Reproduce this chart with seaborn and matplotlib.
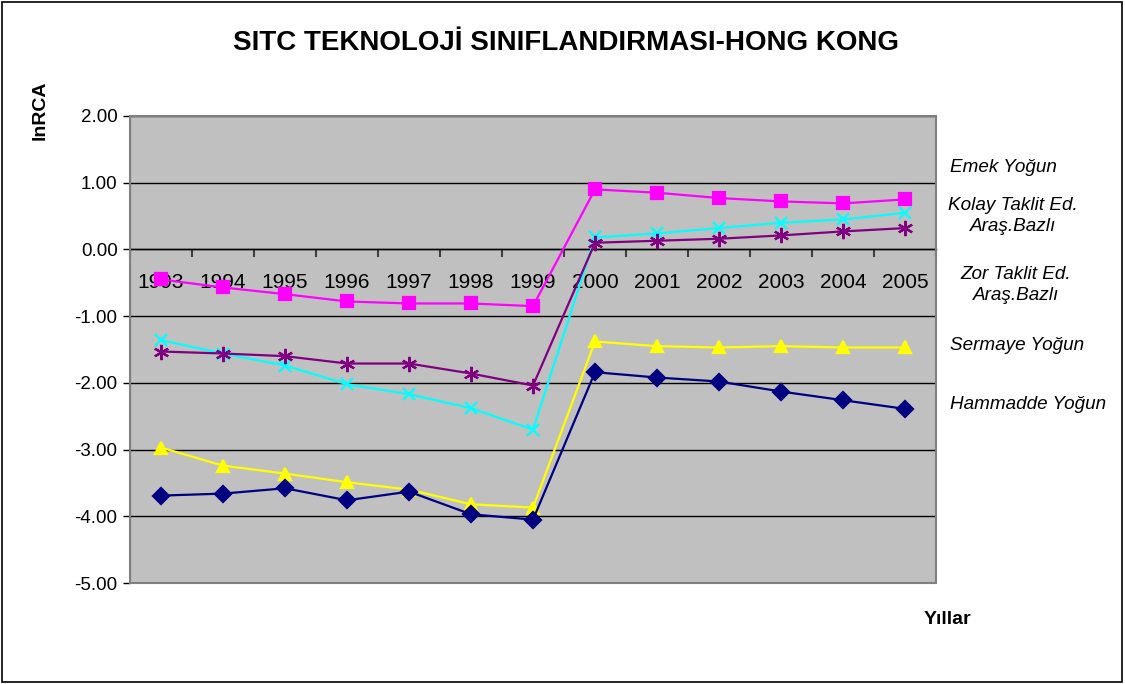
import numpy as np
import pandas as pd
import matplotlib
matplotlib.use('Agg')
import matplotlib.pyplot as plt
from matplotlib.patches import Rectangle
import seaborn as sns

# ---------------------- data ---------------------- #
years = [1993, 1994, 1995, 1996, 1997, 1998, 1999, 2000, 2001, 2002, 2003, 2004, 2005]

emek = [-0.45, -0.57, -0.67, -0.78, -0.81, -0.81, -0.85, 0.90, 0.85, 0.77, 0.72, 0.69, 0.75]
kolay = [-1.36, -1.56, -1.74, -2.02, -2.17, -2.38, -2.70, 0.18, 0.24, 0.32, 0.40, 0.45, 0.55]
zor = [-1.53, -1.56, -1.60, -1.71, -1.71, -1.86, -2.04, 0.10, 0.13, 0.16, 0.21, 0.27, 0.32]
sermaye = [-2.97, -3.24, -3.36, -3.49, -3.60, -3.82, -3.87, -1.38, -1.45, -1.47, -1.45, -1.47, -1.47]
hammadde = [-3.69, -3.66, -3.58, -3.76, -3.63, -3.97, -4.05, -1.84, -1.92, -1.98, -2.13, -2.26, -2.39]

series_names = ['Emek Yoğun', 'Kolay Taklit Ed.\nAraş.Bazlı', 'Zor Taklit Ed.\nAraş.Bazlı',
                'Sermaye Yoğun', 'Hammadde Yoğun']
series_values = [emek, kolay, zor, sermaye, hammadde]
colors = ['#FF00FF', '#00FFFF', '#800080', '#FFFF00', '#000080']
markers = ['s', 'x', (6, 2, 0), '^', 'D']
marker_sizes = [8, 9, 11, 9, 8]

yticks = [2, 1, 0, -1, -2, -3, -4, -5]

df = pd.DataFrame({
    'Yil': np.tile(years, len(series_names)),
    'lnRCA': np.concatenate(series_values),
    'Seri': np.repeat(series_names, len(years)),
})

# ---------------------- plot ---------------------- #
sns.set_style('white')
plt.rcParams['font.family'] = ['Liberation Sans', 'DejaVu Sans']
plt.rcParams['text.color'] = 'black'
plt.rcParams['xtick.color'] = 'black'
plt.rcParams['ytick.color'] = 'black'

fig = plt.figure(figsize=(11.25, 6.84), dpi=100)
ax = fig.add_axes([130 / 1125, 1 - 583 / 684, (936 - 130) / 1125, (583 - 116) / 684])
ax.set_facecolor('#C0C0C0')

# one call per series: filled and line-art markers can't be mixed in one call
for name, c, m, ms in zip(series_names, colors, markers, marker_sizes):
    sub = df[df['Seri'] == name]
    sns.lineplot(data=sub, x='Yil', y='lnRCA', color=c, marker=m,
                 markersize=ms, linewidth=1.6, markeredgewidth=1.6,
                 markeredgecolor=c, markerfacecolor=c, ax=ax, zorder=3)

ax.set_xlim(years[0] - 0.5, years[-1] + 0.5)
ax.set_ylim(-5, 2)

# horizontal gridlines
ax.set_yticks(yticks)
ax.set_yticklabels([f'{v:.2f}' for v in yticks], fontsize=13.5)
ax.yaxis.grid(True, color='black', linewidth=1)
ax.set_axisbelow(True)
ax.tick_params(axis='y', direction='out', length=5, width=1, color='black', pad=4, left=True)

# category axis sits on the zero line
ax.spines['bottom'].set_position(('data', 0))
ax.spines['bottom'].set_color('black')
ax.spines['bottom'].set_linewidth(1)
ax.spines['top'].set_visible(False)
ax.spines['right'].set_visible(False)
ax.spines['left'].set_color('#404040')
ax.set_xticks(years)
ax.set_xticklabels([str(y) for y in years], fontsize=15)
ax.tick_params(axis='x', which='major', length=0, pad=17)
ax.set_xticks(np.arange(years[0] - 0.5, years[-1] + 1), minor=True)
ax.tick_params(axis='x', which='minor', direction='out', length=6, width=1.5,
               color='#404040', bottom=True)

# plot area frame
ax.add_patch(Rectangle((0, 0), 1, 1, transform=ax.transAxes, fill=False,
                       edgecolor='#808080', linewidth=1.5, zorder=4, clip_on=False))

ax.set_xlabel('')
ax.set_ylabel('')

fig.text(566 / 1125, 1 - 43 / 684, 'SITC TEKNOLOJİ SINIFLANDIRMASI-HONG KONG',
         ha='center', va='center', fontsize=20, fontweight='bold')
fig.text(40 / 1125, 1 - 110 / 684, 'lnRCA', rotation=90, ha='center', va='center',
         fontsize=14, fontweight='bold')
fig.text(947 / 1125, 1 - 620 / 684, 'Yıllar', ha='center', va='center',
         fontsize=14, fontweight='bold')

# right-hand series labels
lab_kw = dict(fontsize=13.6, style='italic', va='center')
fig.text(950 / 1125, 1 - 168 / 684, series_names[0], ha='left', **lab_kw)
fig.text(1013 / 1125, 1 - 216 / 684, series_names[1], ha='center',
         multialignment='center', linespacing=1.35, **lab_kw)
fig.text(1016 / 1125, 1 - 285 / 684, series_names[2], ha='center',
         multialignment='center', linespacing=1.35, **lab_kw)
fig.text(950 / 1125, 1 - 345 / 684, series_names[3], ha='left', **lab_kw)
fig.text(950 / 1125, 1 - 405 / 684, series_names[4], ha='left', **lab_kw)

# outer chart border
fig.patches.append(Rectangle((2 / 1125, 2 / 684), 1120 / 1125, 680 / 684,
                             transform=fig.transFigure, fill=False,
                             edgecolor='black', linewidth=1.2))

plt.savefig('out.png', dpi=100)
plt.close()
